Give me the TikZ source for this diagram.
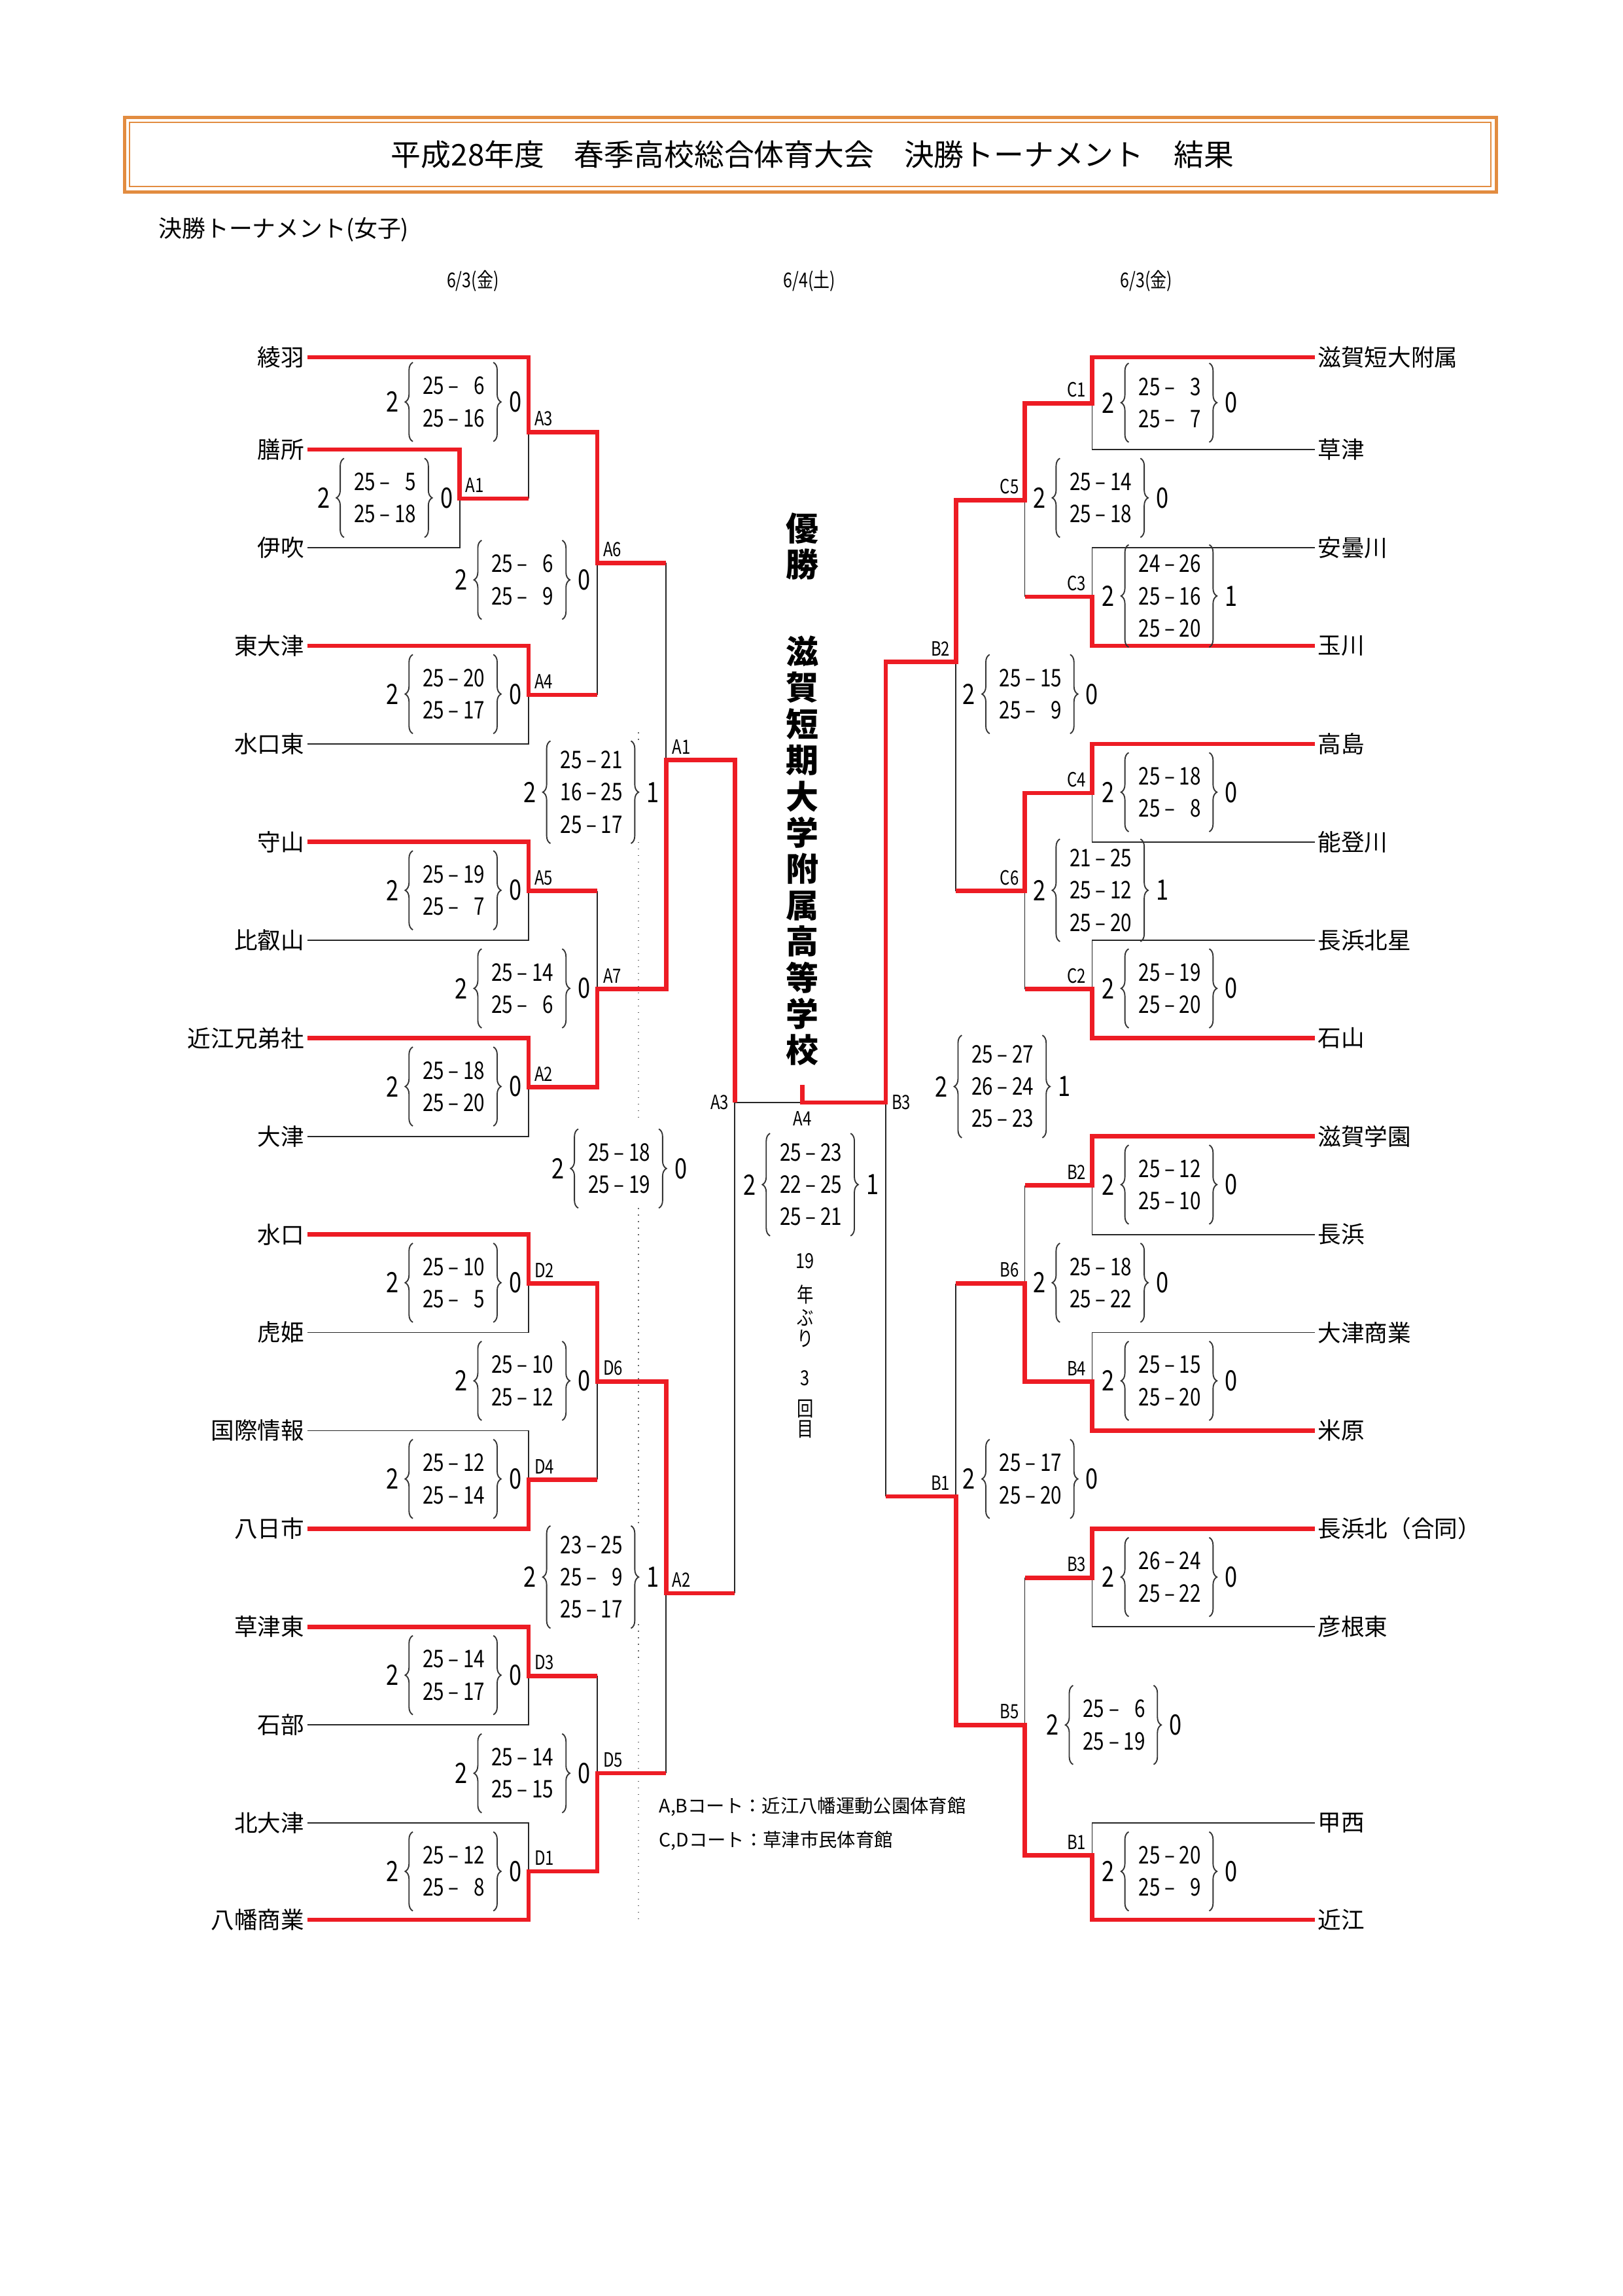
\documentclass[tikz,border=0pt]{standalone}
\usepackage{fontspec}
\setmainfont{Noto Sans CJK JP}
\newfontfamily\numfont[FakeStretch=0.8]{Noto Sans CJK JP}
\usetikzlibrary{decorations.pathreplacing}
\definecolor{tred}{RGB}{237,28,36}
\definecolor{frameOrange}{RGB}{226,140,64}

\tikzset{
  team/.style={font=\fontsize{8.55}{10}\selectfont, inner sep=1pt},
  teamL/.style={team, anchor=east},
  teamR/.style={team, anchor=west},
  lost/.style={draw=black!85, line width=0.45pt},
  won/.style={draw=tred, line width=1.6pt},
  setwin/.style={font=\numfont\fontsize{10.3}{12}\selectfont, inner sep=0pt},
  setline/.style={font=\numfont\fontsize{8.9}{10}\selectfont, inner sep=0pt},
  setbrace/.style={decorate, decoration={brace, amplitude=2.8pt}, draw=black!80, line width=0.45pt},
  tagL/.style={font=\numfont\fontsize{7.2}{8}\selectfont, inner sep=2pt, anchor=south west},
  tagR/.style={font=\numfont\fontsize{7.2}{8}\selectfont, inner sep=2pt, anchor=south east},
  datetext/.style={font=\numfont\fontsize{7.5}{9}\selectfont},
  champ/.style={font=\bfseries\fontsize{12}{13.3}\selectfont, align=center, inner sep=0pt},
  record/.style={font=\numfont\fontsize{7.6}{9}\selectfont, inner sep=0pt},
  note/.style={font=\fontsize{6.8}{8}\selectfont, anchor=west, inner sep=0pt},
  guide/.style={draw=black!60, dotted, line width=0.4pt},
}

\newcommand{\sk}{\hphantom{0}}
% score with two sets
\newcommand{\scoreii}[6]{%
  \begin{scope}[shift={(#2,#3)}]
    \node[setwin] (#1w) at (0,0) {2};
    \draw[setbrace] (14,27) -- (14,-27);
    \node[setline] (#1a) at (42,-11) {#4};
    \node[setline] (#1b) at (42,11) {#5};
    \draw[setbrace] (69,-27) -- (69,27);
    \node[setwin] (#1l) at (84,0) {#6};
  \end{scope}}
% score with three sets
\newcommand{\scoreiii}[7]{%
  \begin{scope}[shift={(#2,#3)}]
    \node[setwin] (#1w) at (0,0) {2};
    \draw[setbrace] (14,35) -- (14,-35);
    \node[setline] (#1a) at (42,-22) {#4};
    \node[setline] (#1b) at (42,0) {#5};
    \node[setline] (#1c) at (42,22) {#6};
    \draw[setbrace] (69,-35) -- (69,35);
    \node[setwin] (#1l) at (84,0) {#7};
  \end{scope}}

\begin{document}
\begin{tikzpicture}[x=0.53721pt, y=-0.53721pt]
\useasboundingbox (0,0) rectangle (1108.2,1568);

% title
\draw[draw=frameOrange, line width=1.2pt] (85,80) rectangle (1022,131);
\draw[draw=frameOrange, line width=0.5pt] (88.5,83.5) rectangle (1018.5,127.5);
\node[font=\fontsize{11}{13}\selectfont] (title) at (555,105.5) {平成28年度　春季高校総合体育大会　決勝トーナメント　結果};
\node[font=\fontsize{8.6}{10}\selectfont, anchor=west, inner sep=0pt] (sub) at (108,157) {決勝トーナメント(女子)};
\node[datetext] (day1) at (323,192) {6/3(金)};
\node[datetext] (day2) at (553,192) {6/4(土)};
\node[datetext] (day3) at (783,192) {6/3(金)};

% teams
\foreach \n/\t/\y in {ayaha/綾羽/244, zeze/膳所/307, ibuki/伊吹/374, higashiotsu/東大津/441,
    minakuchihigashi/水口東/508, moriyama/守山/575, hieizan/比叡山/642, omikyodai/近江兄弟社/709,
    otsu/大津/776, minakuchi/水口/843, torahime/虎姫/910, kokusai/国際情報/977,
    yokaichi/八日市/1044, kusatsuhigashi/草津東/1111, ishibe/石部/1178, kitaotsu/北大津/1245,
    hachiman/八幡商業/1311}
  \node[teamL] (\n) at (210,\y) {\t};
\foreach \n/\t/\y in {tandai/滋賀短大附属/244, kusatsu/草津/307, adogawa/安曇川/374, tamagawa/玉川/441,
    takashima/高島/508, notogawa/能登川/575, hokusei/長浜北星/642, ishiyama/石山/709,
    gakuen/滋賀学園/776, nagahama/長浜/843, otsushogyo/大津商業/910, maibara/米原/977,
    nagahamakita/長浜北（合同）/1044, hikone/彦根東/1111, kosei/甲西/1245, omi/近江/1311}
  \node[teamR] (\n) at (898,\y) {\t};

% junctions
\coordinate (jA1) at (314,340.5);
\coordinate (jA3) at (361,295);
\coordinate (jA4) at (361,474.5);
\coordinate (jA6) at (408,384.5);
\coordinate (jA5) at (361,608.5);
\coordinate (jA2) at (361,742.5);
\coordinate (jA7) at (408,675.5);
\coordinate (jA1s) at (455,519);
\coordinate (jD2) at (361,876.5);
\coordinate (jD4) at (361,1010.5);
\coordinate (jD6) at (408,943.5);
\coordinate (jD3) at (361,1144.5);
\coordinate (jD1) at (361,1278);
\coordinate (jD5) at (408,1211);
\coordinate (jA2s) at (455,1088);
\coordinate (jA3f) at (502,753);
\coordinate (jA4f) at (548,753);
\coordinate (jB3f) at (605,753);
\coordinate (jC1) at (746,275.5);
\coordinate (jC3) at (746,407.5);
\coordinate (jC5) at (700,341.5);
\coordinate (jC4) at (746,541.5);
\coordinate (jC2) at (746,675.5);
\coordinate (jC6) at (700,608.5);
\coordinate (jB2q) at (653,452);
\coordinate (jB2) at (746,809.5);
\coordinate (jB4) at (746,943.5);
\coordinate (jB6) at (700,876.5);
\coordinate (jB3) at (746,1077.5);
\coordinate (jB1) at (746,1267);
\coordinate (jB5) at (700,1178);
\coordinate (jB1q) at (653,1022);

% dotted guide
\draw[guide] (436,500) -- (436,508);
\draw[guide] (436,575) -- (436,764);
\draw[guide] (436,825) -- (436,1043);
\draw[guide] (436,1109) -- (436,1312);

% bracket, left
\draw[lost] (zeze.east) -| (jA1 |- ibuki.east) -- (ibuki.east);
\draw[lost] (ayaha.east) -| (jA3 |- jA1);
\draw[lost] (higashiotsu.east) -| (jA4 |- minakuchihigashi.east) -- (minakuchihigashi.east);
\draw[lost] (moriyama.east) -| (jA5 |- hieizan.east) -- (hieizan.east);
\draw[lost] (omikyodai.east) -| (jA2 |- otsu.east) -- (otsu.east);
\draw[lost] (minakuchi.east) -| (jD2 |- torahime.east) -- (torahime.east);
\draw[lost] (kokusai.east) -| (jD4 |- yokaichi.east) -- (yokaichi.east);
\draw[lost] (kusatsuhigashi.east) -| (jD3 |- ishibe.east) -- (ishibe.east);
\draw[lost] (kitaotsu.east) -| (jD1 |- hachiman.east) -- (hachiman.east);
\draw[lost] (jA6 |- jA3) -- (jA6 |- jA4);
\draw[lost] (jA7 |- jA5) -- (jA7 |- jA2);
\draw[lost] (jA1s |- jA6) -- (jA1s |- jA7);
\draw[lost] (jD6 |- jD2) -- (jD6 |- jD4);
\draw[lost] (jD5 |- jD3) -- (jD5 |- jD1);
\draw[lost] (jA2s |- jD6) -- (jA2s |- jD5);
\draw[lost] (jA3f |- jA1s) -- (jA3f |- jA2s);
\draw[lost] (jA3f) -- (jB3f);
\draw[lost] (jB3f |- jB2q) -- (jB3f |- jB1q);

% bracket, right
\draw[lost] (tandai.west) -| (jC1 |- kusatsu.west) -- (kusatsu.west);
\draw[lost] (adogawa.west) -| (jC3 |- tamagawa.west) -- (tamagawa.west);
\draw[lost] (takashima.west) -| (jC4 |- notogawa.west) -- (notogawa.west);
\draw[lost] (hokusei.west) -| (jC2 |- ishiyama.west) -- (ishiyama.west);
\draw[lost] (gakuen.west) -| (jB2 |- nagahama.west) -- (nagahama.west);
\draw[lost] (otsushogyo.west) -| (jB4 |- maibara.west) -- (maibara.west);
\draw[lost] (nagahamakita.west) -| (jB3 |- hikone.west) -- (hikone.west);
\draw[lost] (kosei.west) -| (jB1 |- omi.west) -- (omi.west);
\draw[lost] (jC5 |- jC1) -- (jC5 |- jC3);
\draw[lost] (jC6 |- jC4) -- (jC6 |- jC2);
\draw[lost] (jB2q |- jC5) -- (jB2q |- jC6);
\draw[lost] (jB6 |- jB2) -- (jB6 |- jB4);
\draw[lost] (jB5 |- jB3) -- (jB5 |- jB1);
\draw[lost] (jB1q |- jB6) -- (jB1q |- jB5);

% winners
\draw[won] (zeze.east) -| (jA1) -- (jA3 |- jA1);
\draw[won] (ayaha.east) -| (jA3) -| (jA6) -- (jA1s |- jA6);
\draw[won] (higashiotsu.east) -| (jA4) -- (jA6 |- jA4);
\draw[won] (moriyama.east) -| (jA5) -- (jA7 |- jA5);
\draw[won] (omikyodai.east) -| (jA2) -| (jA7) -| (jA1s) -| (jA3f);
\draw[won] (minakuchi.east) -| (jD2) -| (jD6) -| (jA2s) -- (jA3f |- jA2s);
\draw[won] (yokaichi.east) -| (jD4) -- (jD6 |- jD4);
\draw[won] (kusatsuhigashi.east) -| (jD3) -- (jD5 |- jD3);
\draw[won] (hachiman.east) -| (jD1) -| (jD5) -- (jA2s |- jD5);
\draw[won] (tandai.west) -| (jC1) -| (jC5) -| (jB2q) -| (jB3f) -- (jA4f) -- ++(0,-12);
\draw[won] (tamagawa.west) -| (jC3) -- (jC5 |- jC3);
\draw[won] (takashima.west) -| (jC4) -| (jC6) -- (jB2q |- jC6);
\draw[won] (ishiyama.west) -| (jC2) -- (jC6 |- jC2);
\draw[won] (gakuen.west) -| (jB2) -- (jB6 |- jB2);
\draw[won] (maibara.west) -| (jB4) -| (jB6) -- (jB1q |- jB6);
\draw[won] (nagahamakita.west) -| (jB3) -- (jB5 |- jB3);
\draw[won] (omi.west) -| (jB1) -| (jB5) -| (jB1q) -- (jB3f |- jB1q);

% match tags
\foreach \c/\t in {jA1/A1, jA3/A3, jA4/A4, jA6/A6, jA5/A5, jA2/A2, jA7/A7, jA1s/A1,
    jD2/D2, jD4/D4, jD6/D6, jD3/D3, jD1/D1, jD5/D5, jA2s/A2}
  \node[tagL] (t\c) at (\c) {\t};
\foreach \c/\t in {jC1/C1, jC3/C3, jC5/C5, jC4/C4, jC2/C2, jC6/C6, jB2q/B2,
    jB2/B2, jB4/B4, jB6/B6, jB3/B3, jB1/B1, jB5/B5, jB1q/B1}
  \node[tagR] (t\c) at (\c) {\t};
\node[tagL, anchor=east] (tjA3f) at (jA3f) {A3};
\node[tagL, anchor=west] (tjB3f) at (jB3f) {B3};
\node[tagL, anchor=north] (tjA4f) at ([yshift=-1pt]jA4f) {A4};

% scores, left
\scoreii{sA3}{268}{274.5}{25 – \sk6}{25 – 16}{0}
\scoreii{sA1}{221}{340}{25 – \sk5}{25 – 18}{0}
\scoreii{sA6}{315}{396}{25 – \sk6}{25 – \sk9}{0}
\scoreii{sA4}{268}{474}{25 – 20}{25 – 17}{0}
\scoreiii{sA1s}{362}{541}{25 – 21}{16 – 25}{25 – 17}{1}
\scoreii{sA5}{268}{608}{25 – 19}{25 – \sk7}{0}
\scoreii{sA7}{315}{675}{25 – 14}{25 – \sk6}{0}
\scoreii{sA2}{268}{742}{25 – 18}{25 – 20}{0}
\scoreii{sA3f}{381}{798}{25 – 18}{25 – 19}{0}
\scoreii{sD2}{268}{876}{25 – 10}{25 – \sk5}{0}
\scoreii{sD6}{315}{943}{25 – 10}{25 – 12}{0}
\scoreii{sD4}{268}{1010}{25 – 12}{25 – 14}{0}
\scoreiii{sA2s}{362}{1077}{23 – 25}{25 – \sk9}{25 – 17}{1}
\scoreii{sD3}{268}{1144}{25 – 14}{25 – 17}{0}
\scoreii{sD5}{315}{1211}{25 – 14}{25 – 15}{0}
\scoreii{sD1}{268}{1278}{25 – 12}{25 – \sk8}{0}
\scoreiii{sA4f}{512}{809}{25 – 23}{22 – 25}{25 – 21}{1}

% scores, right
\scoreii{sC1}{757}{275}{25 – \sk3}{25 – \sk7}{0}
\scoreii{sC5}{710}{340}{25 – 14}{25 – 18}{0}
\scoreiii{sC3}{757}{407}{24 – 26}{25 – 16}{25 – 20}{1}
\scoreii{sB2q}{662}{474}{25 – 15}{25 – \sk9}{0}
\scoreii{sC4}{757}{541}{25 – 18}{25 – \sk8}{0}
\scoreiii{sC6}{710}{608}{21 – 25}{25 – 12}{25 – 20}{1}
\scoreii{sC2}{757}{675}{25 – 19}{25 – 20}{0}
\scoreiii{sB3f}{643}{742}{25 – 27}{26 – 24}{25 – 23}{1}
\scoreii{sB2}{757}{809}{25 – 12}{25 – 10}{0}
\scoreii{sB6}{710}{876}{25 – 18}{25 – 22}{0}
\scoreii{sB4}{757}{943}{25 – 15}{25 – 20}{0}
\scoreii{sB1q}{662}{1010}{25 – 17}{25 – 20}{0}
\scoreii{sB3}{757}{1077}{26 – 24}{25 – 22}{0}
\scoreii{sB5}{719}{1178}{25 – \sk6}{25 – 19}{0}
\scoreii{sB1}{757}{1278}{25 – 20}{25 – \sk9}{0}

% champion
\node[champ] (yusho) at (548,373) {優\\勝};
\node[champ] (champion) at (548,581) {滋\\賀\\短\\期\\大\\学\\附\\属\\高\\等\\学\\校};
\foreach \t/\y [count=\i] in {19/861, 年/884, ぶ/900, り/914, 3/941, 回/962, 目/976}
  \node[record] (rec\i) at (550,\y) {\t};

% courts
\node[note] (court1) at (450,1234) {A,Bコート：近江八幡運動公園体育館};
\node[note] (court2) at (450,1257) {C,Dコート：草津市民体育館};
\end{tikzpicture}
\end{document}
